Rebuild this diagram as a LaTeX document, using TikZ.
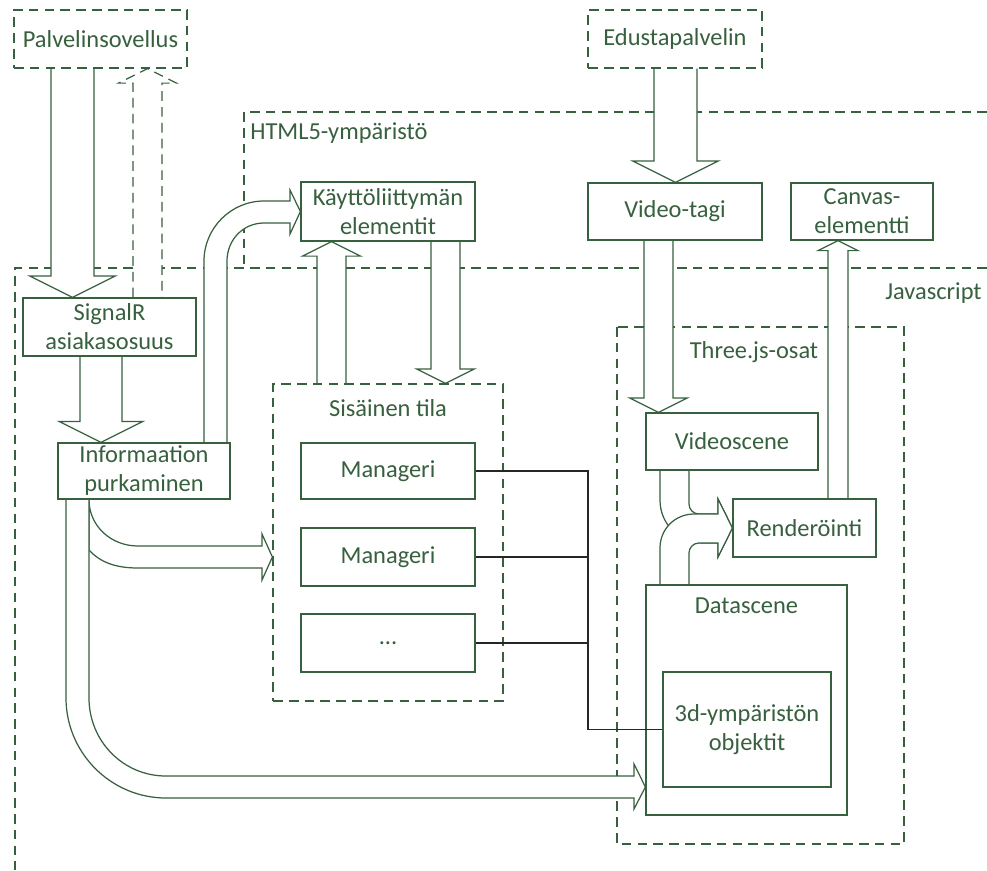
\documentclass[tikz,border=0pt]{standalone}
\usepackage{fontspec}
\setmainfont{Carlito}
\usepackage{tikz}
\usetikzlibrary{calc}
\definecolor{grn}{RGB}{55,96,62}
\pgfdeclarelayer{bg}
\pgfdeclarelayer{mid}
\pgfsetlayers{bg,mid,main}
% block arrows: [style]{centre x}{half width}{from}{to}
\newcommand{\blkdown}[5][]{%
  \draw[blk,#1] (#2-#3,0 |- #4) -- ($(#2-#3,0 |- #5)+(0,-#3)$) -- ++(-#3,0)
    -- (#2,0 |- #5) -- ($(#2+#3,0 |- #5)+(#3,-#3)$) -- ++(-#3,0) -- (#2+#3,0 |- #4);}
\newcommand{\blkup}[5][]{%
  \draw[blk,#1] (#2-#3,0 |- #4) -- ($(#2-#3,0 |- #5)+(0,#3)$) -- ++(-#3,0)
    -- (#2,0 |- #5) -- ($(#2+#3,0 |- #5)+(#3,#3)$) -- ++(-#3,0) -- (#2+#3,0 |- #4);}

\begin{document}
\begin{tikzpicture}[x=0.02cm, y=-0.02cm,
    font=\fontsize{13.9pt}{16.5pt}\selectfont, text=grn,
    dashln/.style={draw=grn, line width=0.7pt, dash pattern=on 5.5pt off 3.5pt},
    box/.style={draw=grn, fill=white, line width=0.7pt, align=center, inner sep=0pt,
        minimum width=3.48cm, minimum height=1.16cm},
    dbox/.style={box, dash pattern=on 5.5pt off 3.5pt},
    lbl/.style={inner sep=0pt},
    blk/.style={draw=grn, fill=white, line width=0.7pt, line join=miter},
    conn/.style={draw=black!85, line width=0.6pt}]
    \useasboundingbox (0,0) rectangle (987,870);

    \node[dbox, minimum width=3.46cm] (pal) at (100.5,39) {Palvelinsovellus};
    \node[dbox] (edu) at (675,39) {Edustapalvelin};

    \node[box, minimum height=1.18cm] (kay) at (388,211.5) {Käyttöliittymän\\elementit};
    \node[box, minimum height=1.14cm] (vid) at (675,211.5) {Video-tagi};
    \node[box, minimum width=2.84cm, minimum height=1.14cm] (can) at (862,211.5) {Canvas-\\elementti};

    \node[box, minimum width=3.46cm] (sig) at (109.5,327) {SignalR\\asiakasosuus};
    \node[box, minimum width=3.44cm, minimum height=1.12cm] (inf) at (144,471) {Informaation\\purkaminen};

    \node[dbox, minimum width=4.6cm, minimum height=6.34cm] (sis) at (388,542.5) {};
    \node[lbl] (sislbl) at (388,408) {Sisäinen tila};
    \node[box, minimum height=1.12cm] (m1) at (388,471) {Manageri};
    \node[box] (m2) at (388,557) {Manageri};
    \node[box] (m3) at (388,643) {...};

    \node[box, minimum width=3.44cm, minimum height=1.14cm] (vsc) at (732,441.5) {Videoscene};
    \node[box, minimum width=2.86cm] (ren) at (804.5,528) {Renderöinti};
    \node[box, minimum width=4.02cm, minimum height=4.6cm] (dat) at (746.5,700) {};
    \node[lbl] (datlbl) at (746.5,606) {Datascene};
    \node[box, minimum width=3.36cm, minimum height=2.3cm] (obj) at (747,729.5) {3d-ympäristön\\objektit};

    % regions
    \begin{pgfonlayer}{bg}
    \draw[dashln] (987,112) -- (244,112) -- (244,268);
    \draw[dashln] (987,268) -- (15,268) -- (15,870);
    \draw[dashln] (617,327) rectangle (904,844);
    \end{pgfonlayer}
    \node[lbl, anchor=west] (htmllbl) at (250,133) {HTML5-ympäristö};
    \node[lbl, anchor=east] (jslbl) at (982,293) {Javascript};
    \node[lbl] (thrlbl) at (754,352) {Three.js-osat};

    \begin{pgfonlayer}{mid}
    \blkdown{72.5}{21.5}{pal.south}{sig.north}
    \blkup[dash pattern=on 5.5pt off 3.5pt]{147.5}{14.5}{sig.north}{pal.south}
    \blkdown{675.5}{21.5}{edu.south}{vid.north}
    \blkdown{658.5}{14.5}{vid.south}{vsc.north}
    \blkdown{101}{21}{sig.south}{inf.north}
    \blkup{331.5}{14.5}{sis.north}{kay.south}
    \blkdown{445.5}{14.5}{kay.south}{sis.north}
    \blkup{838}{10}{ren.north}{can.south}

    % informaation -> kayttoliittyma
    \draw[blk] (204,0 |- inf.north) -- (204,261) .. controls (204,228) and (231,201) .. (264,201)
        -- (290,201) -- (290,190) -- (kay.west) -- (290,234) -- (290,223) -- (264,223)
        .. controls (243,223) and (227,240) .. (227,261) -- (227,0 |- inf.north);
    % informaation -> sisainen tila
    \draw[blk] (89,0 |- inf.south) .. controls (89,526) and (111,546) .. (138,546) -- (262,546)
        -- (262,534) -- (sis.west |- 0,557) -- (262,580) -- (262,568) -- (138,568)
        .. controls (115,568) and (100,562) .. (89,550) -- cycle;
    % informaation -> datascene
    \draw[blk] (66,0 |- inf.south) -- (66,698) .. controls (66,753) and (111,798) .. (166,798)
        -- (634,798) -- (634,809) -- (dat.west |- 0,787) -- (634,764) -- (634,776) -- (166,776)
        .. controls (123,776) and (89,741) .. (89,698) -- (89,0 |- inf.south);

    % videoscene, datascene -> renderointi
    \draw[blk] (660,0 |- vsc.south) -- (660,500) .. controls (660,524) and (679,543) .. (703,543)
        -- (718,543) -- (718,557) -- (ren.west) -- (718,499) -- (718,514) -- (699,514)
        .. controls (693.5,514) and (689,509.5) .. (689,504) -- (689,0 |- vsc.south);
    \draw[blk] (660,0 |- dat.north) -- (660,548) .. controls (660,529) and (675,514) .. (694,514)
        -- (718,514) -- (718,499) -- (ren.west) -- (718,557) -- (718,543) -- (699,543)
        .. controls (693.5,543) and (689,547.5) .. (689,553) -- (689,0 |- dat.north);
    \end{pgfonlayer}

    % managers -> 3d objects
    \coordinate (trunk) at (588,471);
    \draw[conn] (m1.east) -- (m1.east -| trunk) |- (obj.west);
    \draw[conn] (m2.east) -- (m2.east -| trunk);
    \draw[conn] (m3.east) -- (m3.east -| trunk);
\end{tikzpicture}
\end{document}
